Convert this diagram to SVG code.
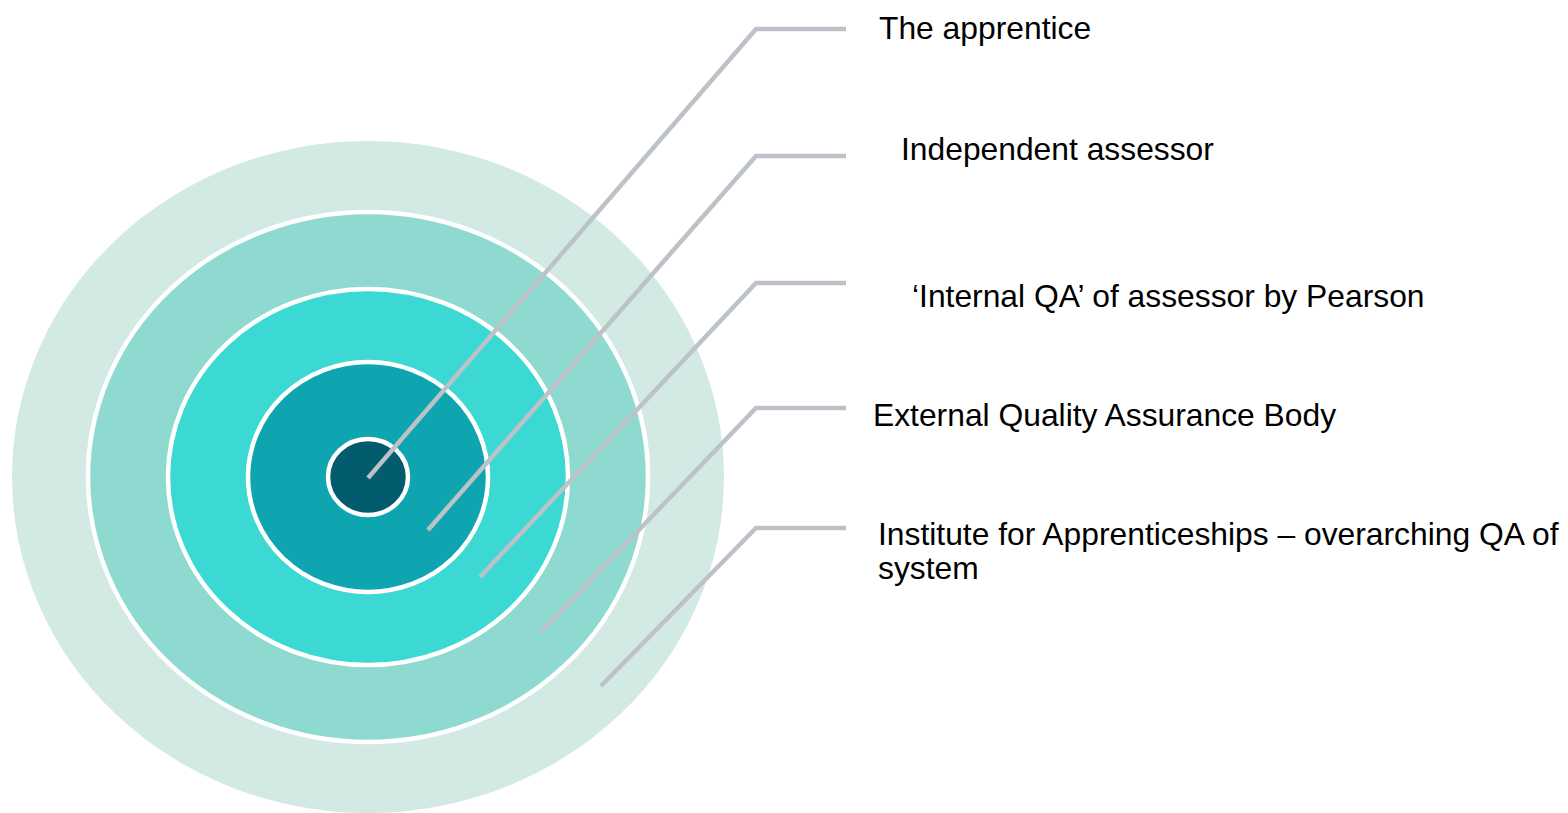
<svg xmlns="http://www.w3.org/2000/svg" width="1568" height="813" viewBox="0 0 1568 813">
<style>
.ring{stroke:#FFFFFF;stroke-width:4.5}
.conn{fill:none;stroke:#BCC2C7;stroke-width:4.5;stroke-linejoin:miter}
.lbl{font-family:"Liberation Sans",Arial,sans-serif;font-size:31.8px;fill:#000000}
</style>
<rect width="1568" height="813" fill="#FFFFFF"/>
<g id="ring-ifa"><ellipse cx="368" cy="477" rx="356" ry="336" fill="#D3EAE4"/></g>
<g id="ring-eqa"><ellipse class="ring" cx="368" cy="477" rx="280" ry="265" fill="#8FDAD0"/></g>
<g id="ring-iqa"><ellipse class="ring" cx="368" cy="477" rx="200" ry="188" fill="#3CD8D3"/></g>
<g id="ring-assessor"><ellipse class="ring" cx="368" cy="477" rx="120" ry="115" fill="#0FA5B0"/></g>
<g id="ring-apprentice"><ellipse class="ring" cx="368" cy="477" rx="40" ry="38" fill="#025C6E"/></g>
<g id="connectors">
<polyline class="conn" points="368,478 756,29 846,29"/>
<polyline class="conn" points="428,530 756,156 846,156"/>
<polyline class="conn" points="480,577 756,283 846,283"/>
<polyline class="conn" points="541,632 756,408 846,408"/>
<polyline class="conn" points="601,686 756,528 846,528"/>
</g>
<g id="label-apprentice"><text class="lbl" x="879" y="39">The apprentice</text></g>
<g id="label-assessor"><text class="lbl" x="901" y="160">Independent assessor</text></g>
<g id="label-iqa"><text class="lbl" x="912" y="307">‘Internal QA’ of assessor by Pearson</text></g>
<g id="label-eqa"><text class="lbl" x="873" y="426">External Quality Assurance Body</text></g>
<g id="label-ifa"><text class="lbl" x="878" y="545">Institute for Apprenticeships – overarching QA of<tspan x="878" y="579">system</tspan></text></g>
</svg>
